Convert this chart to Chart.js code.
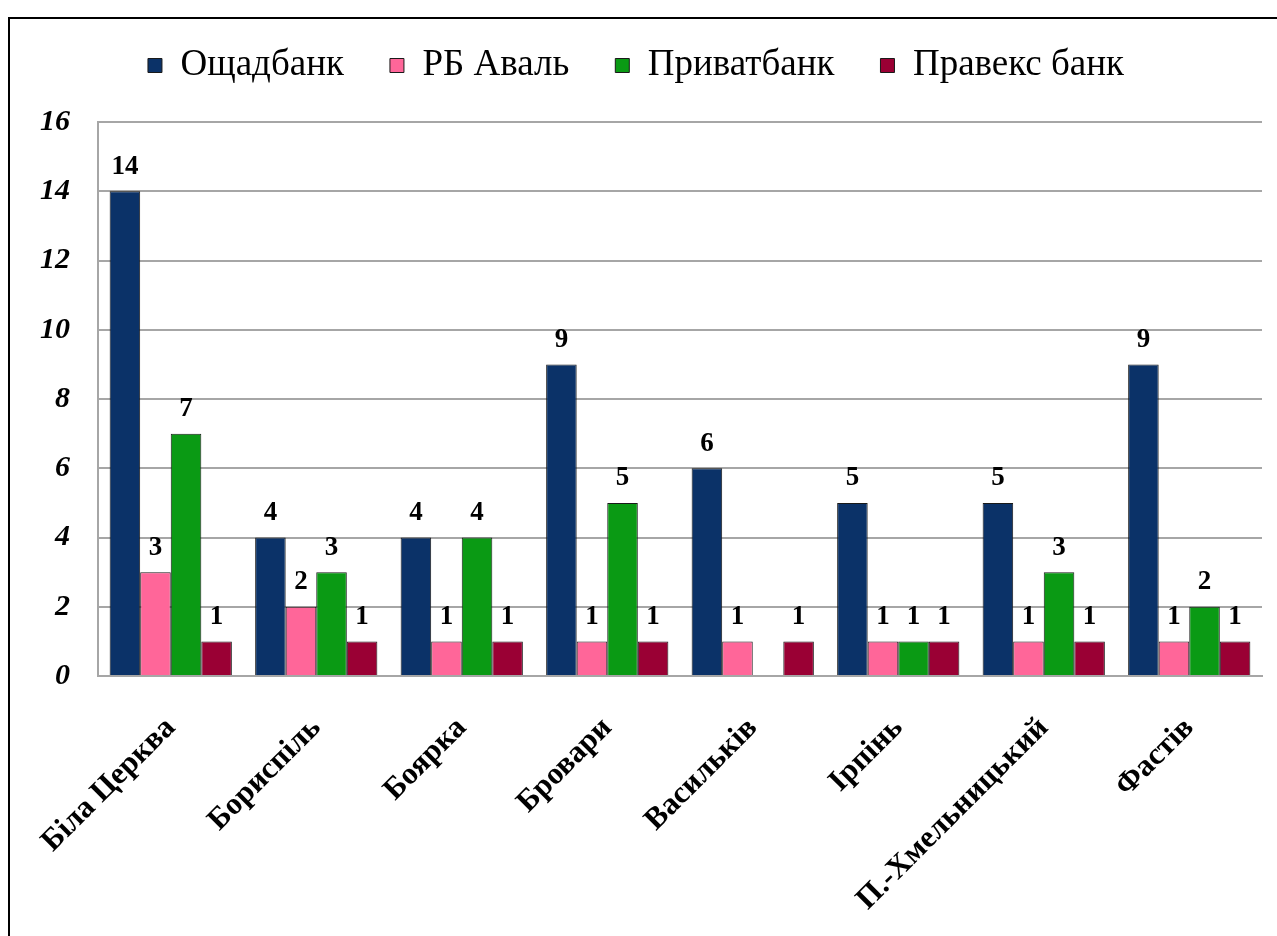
<!DOCTYPE html>
<html>
<head>
<meta charset="utf-8">
<script src="https://cdn.jsdelivr.net/npm/chart.js@4"></script>
<style>
    body { margin: 0; background: #fff; }
    #frame {
        position: absolute; left: 8px; top: 17px; width: 1269px; height: 919px;
        border-left: 2px solid #000; border-top: 2px solid #000; box-sizing: border-box;
    }
    #chartBox { position: absolute; left: 0; top: 0; width: 1267px; height: 917px; }
</style>
</head>
<body>
<div id="frame"><div id="chartBox"><canvas id="bankChart"></canvas></div></div>
<script>
const cities = ['Біла Церква', 'Бориспіль', 'Боярка', 'Бровари', 'Васильків', 'Ірпінь', 'П.-Хмельницький', 'Фастів'];
const oschadbank = [14, 4, 4, 9, 6, 5, 5, 9];
const rbAval = [3, 2, 1, 1, 1, 1, 1, 1];
const privatbank = [7, 3, 4, 5, null, 1, 3, 2];
const pravex = [1, 1, 1, 1, 1, 1, 1, 1];
const yTicks = [0, 2, 4, 6, 8, 10, 12, 14, 16];

const serif = "'Liberation Serif', 'Times New Roman', serif";

// value labels above each bar
const barLabels = {
    id: 'barLabels',
    afterDatasetsDraw(chart) {
        const ctx = chart.ctx;
        ctx.save();
        ctx.font = 'bold 27px ' + serif;
        ctx.fillStyle = '#000';
        ctx.textAlign = 'center';
        ctx.textBaseline = 'bottom';
        chart.data.datasets.forEach((ds, i) => {
            chart.getDatasetMeta(i).data.forEach((bar, j) => {
                const v = ds.data[j];
                if (v === null || v === undefined) return;
                ctx.fillText(v, bar.x, bar.y - 11);
            });
        });
        ctx.restore();
    }
};

// fix legend block height so the plot starts at the right place
const legendHeight = {
    id: 'legendHeight',
    beforeInit(chart) {
        const fit = chart.legend.fit;
        chart.legend.fit = function () {
            fit.bind(chart.legend)();
            this.height = 121;
        };
    }
};

const ctx = document.getElementById('bankChart').getContext('2d');
new Chart(ctx, {
    type: 'bar',
    data: {
        labels: cities,
        datasets: [
            { label: 'Ощадбанк', data: oschadbank, backgroundColor: '#0b3268' },
            { label: 'РБ Аваль', data: rbAval, backgroundColor: '#ff6699' },
            { label: 'Приватбанк', data: privatbank, backgroundColor: '#0a9a14' },
            { label: 'Правекс банк', data: pravex, backgroundColor: '#9a0034' }
        ].map(d => Object.assign(d, {
            borderColor: '#1a1a1a', borderWidth: 1, borderSkipped: 'bottom',
            categoryPercentage: 0.84, barPercentage: 1.0
        }))
    },
    options: {
        responsive: true,
        maintainAspectRatio: false,
        animation: false,
        layout: { padding: { top: -18, left: 0, right: 15, bottom: 10 } },
        scales: {
            y: {
                min: 0,
                max: 16,
                afterBuildTicks: s => { s.ticks = yTicks.map(v => ({ value: v })); },
                afterFit: s => { s.width = 88; },
                ticks: {
                    color: '#000',
                    padding: 28,
                    font: { family: serif, size: 30, style: 'italic', weight: 'bold' }
                },
                grid: { color: '#a6a6a6', lineWidth: 2, drawTicks: false },
                border: { color: '#a6a6a6', width: 2 }
            },
            x: {
                afterFit: s => { s.height = 250; },
                ticks: {
                    color: '#000',
                    maxRotation: 45,
                    minRotation: 45,
                    padding: 26,
                    font: { family: serif, size: 31, weight: 'bold' }
                },
                grid: { display: false },
                border: { color: '#a6a6a6', width: 2 }
            }
        },
        plugins: {
            legend: {
                position: 'top',
                labels: {
                    color: '#000',
                    boxWidth: 14,
                    boxHeight: 14,
                    padding: 46,
                    font: { family: serif, size: 37 }
                }
            },
            tooltip: { enabled: false }
        }
    },
    plugins: [barLabels, legendHeight]
});
</script>
</body>
</html>
